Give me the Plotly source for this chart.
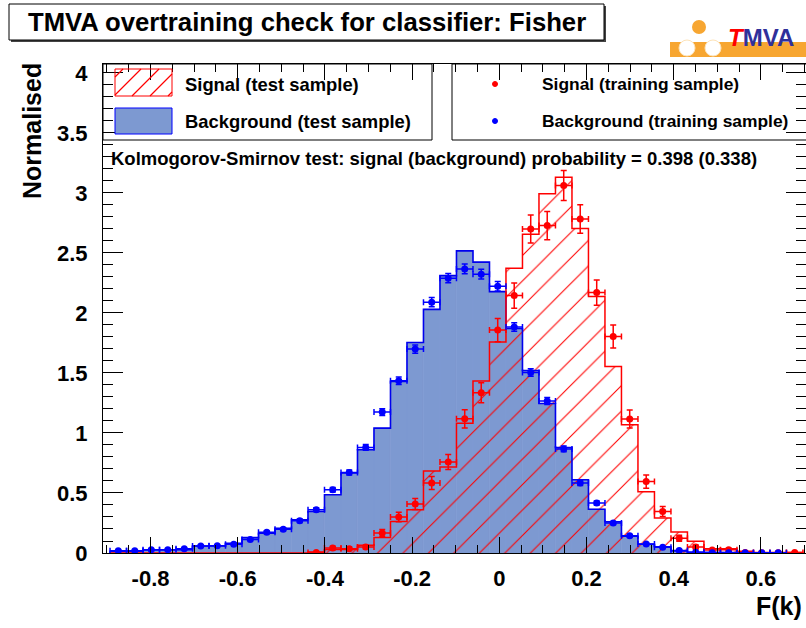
import numpy as np
import plotly.graph_objects as go

# ---------------- data ----------------
n_bins = 42
x_lo = -0.8929
bin_w = 0.03784

# test-sample histograms (normalised)
bkg_test = [0.015, 0.015, 0.025, 0.027, 0.028, 0.058, 0.058, 0.080, 0.128, 0.165,
            0.205, 0.277, 0.346, 0.485, 0.666, 0.860, 1.040, 1.430, 1.754, 2.030,
            2.311, 2.517, 2.423, 2.178, 1.870, 1.520, 1.245, 0.879, 0.610, 0.365,
            0.260, 0.140, 0.073, 0.052, 0.017, 0.008, 0.004, 0.003, 0.001, 0.001,
            0.0, 0.0]
sig_test = [0.0, 0.0, 0.0, 0.0, 0.0, 0.0, 0.0, 0.0, 0.0, 0.004,
            0.0, 0.0, 0.008, 0.030, 0.030, 0.065, 0.130, 0.263, 0.361, 0.683,
            0.717, 1.080, 1.433, 1.757, 2.373, 2.656, 2.992, 3.130, 2.703, 2.137,
            1.554, 1.068, 0.510, 0.291, 0.174, 0.097, 0.035, 0.035, 0.014, 0.005,
            0.005, 0.005]

# training-sample points
bkg_train = [0.019, 0.019, 0.027, 0.027, 0.035, 0.058, 0.061, 0.072, 0.113, 0.172,
             0.197, 0.269, 0.361, 0.527, 0.671, 0.879, 1.174, 1.435, 1.699, 2.090,
             2.290, 2.367, 2.323, 2.222, 1.883, 1.504, 1.266, 0.867, 0.583, 0.416,
             0.250, 0.144, 0.076, 0.047, 0.020, 0.007, 0.002, 0.002, 0.002, 0.002,
             0.002, None]
bkg_train_err = [0.004, 0.004, 0.004, 0.004, 0.005, 0.006, 0.006, 0.007, 0.009, 0.011,
                 0.012, 0.014, 0.016, 0.019, 0.021, 0.024, 0.028, 0.031, 0.034, 0.038,
                 0.039, 0.040, 0.040, 0.039, 0.036, 0.032, 0.029, 0.024, 0.020, 0.017,
                 0.013, 0.010, 0.007, 0.006, 0.004, 0.002, 0.001, 0.001, 0.001, 0.001,
                 0.001, 0.0]
sig_train = [None, None, None, None, None, None, None, None, None, None,
             None, None, 0.005, 0.042, 0.036, 0.050, 0.166, 0.300, 0.408, 0.583,
             0.758, 1.118, 1.335, 1.857, 2.145, 2.700, 2.728, 3.061, 2.783, 2.170,
             1.804, 1.116, 0.595, 0.346, 0.122, 0.050, 0.025, 0.027, 0.004, 0.003,
             0.002, 0.004]
sig_train_err = [0.0, 0.0, 0.0, 0.0, 0.0, 0.0, 0.0, 0.0, 0.0, 0.0,
                 0.0, 0.0, 0.005, 0.015, 0.014, 0.016, 0.029, 0.039, 0.046, 0.055,
                 0.062, 0.076, 0.083, 0.097, 0.105, 0.117, 0.118, 0.125, 0.119, 0.105,
                 0.096, 0.075, 0.055, 0.042, 0.025, 0.016, 0.011, 0.012, 0.005, 0.004,
                 0.003, 0.005]

x_tick_vals = [-0.8, -0.6, -0.4, -0.2, 0.0, 0.2, 0.4, 0.6]
x_tick_text = ["-0.8", "-0.6", "-0.4", "-0.2", "0", "0.2", "0.4", "0.6"]
y_tick_vals = [0, 0.5, 1, 1.5, 2, 2.5, 3, 3.5, 4]
y_tick_text = ["0", "0.5", "1", "1.5", "2", "2.5", "3", "3.5", "4"]

title_text = "TMVA overtraining check for classifier: Fisher"
ks_text = "Kolmogorov-Smirnov test: signal (background) probability = 0.398 (0.338)"
legend_labels = ["Signal (test sample)", "Background (test sample)",
                 "Signal (training sample)", "Background (training sample)"]
x_title = "F(k)"
y_title = "Normalised"

# ---------------- geometry ----------------
W, H = 806, 628
L, R, T, B = 103, 806, 64, 553
x_range = [-0.909, 0.7034]
y_range = [0, 4.074]

FONT = "Liberation Sans, Arial, Helvetica, sans-serif"
BLUE_FILL = "#7d99d1"
BLUE_LINE = "#0000ee"
RED = "#ff0000"

edges = x_lo + bin_w * np.arange(n_bins + 1)
centers = 0.5 * (edges[:-1] + edges[1:])


def px(xp):
    return (xp - L) / (R - L)


def py(yp):
    return (B - yp) / (B - T)


def outline(vals):
    xs, ys = [edges[0]], [0.0]
    for k, v in enumerate(vals):
        xs += [edges[k], edges[k + 1]]
        ys += [v, v]
    xs.append(edges[-1])
    ys.append(0.0)
    return xs, ys


fig = go.Figure()

# background test: filled histogram
fig.add_trace(go.Bar(x=centers, y=bkg_test, width=bin_w,
                     marker=dict(color=BLUE_FILL, line=dict(width=0.6, color=BLUE_FILL)),
                     showlegend=False, hoverinfo="skip"))
bx, by = outline(bkg_test)
fig.add_trace(go.Scatter(x=bx, y=by, mode="lines", line=dict(color=BLUE_LINE, width=1.6),
                         showlegend=False, hoverinfo="skip"))

# signal test: hatched histogram
fig.add_trace(go.Bar(x=centers, y=sig_test, width=bin_w,
                     marker=dict(color="rgba(0,0,0,0)", line=dict(width=0),
                                 pattern=dict(shape="/", fgcolor=RED, bgcolor="rgba(0,0,0,0)",
                                              fgopacity=1, size=18, solidity=0.06, fillmode="overlay")),
                     showlegend=False, hoverinfo="skip"))
sx, sy = outline(sig_test)
fig.add_trace(go.Scatter(x=sx, y=sy, mode="lines", line=dict(color=RED, width=1.5),
                         showlegend=False, hoverinfo="skip"))

# training points
fig.add_trace(go.Scatter(x=centers, y=sig_train, mode="markers",
                         marker=dict(color=RED, size=7),
                         error_y=dict(type="data", array=sig_train_err, color=RED, thickness=1.5, width=3),
                         error_x=dict(type="constant", value=bin_w / 2, color=RED, thickness=1.5, width=3),
                         showlegend=False, hoverinfo="skip"))
fig.add_trace(go.Scatter(x=centers, y=bkg_train, mode="markers",
                         marker=dict(color="#0000ff", size=7),
                         error_y=dict(type="data", array=bkg_train_err, color="#0000ff", thickness=1.5, width=3),
                         error_x=dict(type="constant", value=bin_w / 2, color="#0000ff", thickness=1.5, width=3),
                         showlegend=False, hoverinfo="skip"))

shapes = []
annotations = []

# legend boxes
shapes.append(dict(type="rect", xref="paper", yref="paper", x0=px(103), x1=px(432), y0=py(140), y1=py(64),
                   line=dict(color="black", width=1), fillcolor="white", layer="below"))
shapes.append(dict(type="rect", xref="paper", yref="paper", x0=px(452), x1=px(812), y0=py(140), y1=py(64),
                   line=dict(color="black", width=1), fillcolor="white", layer="below"))

# hatched sample box (one path of diagonal segments)
hx0, hx1, hy0, hy1 = 115, 172, 69, 96
segs = []
for c in range(hx0 + hy0 + 8, hx1 + hy1, 18):
    pts = []
    for xx in (hx0, hx1):
        yy = c - xx
        if hy0 <= yy <= hy1:
            pts.append((xx, yy))
    for yy in (hy0, hy1):
        xx = c - yy
        if hx0 <= xx <= hx1:
            pts.append((xx, yy))
    if len(pts) >= 2:
        (xa, ya), (xb, yb) = pts[0], pts[-1]
        segs.append("M%.5f,%.5f L%.5f,%.5f" % (px(xa), py(ya), px(xb), py(yb)))
shapes.append(dict(type="path", xref="paper", yref="paper", path=" ".join(segs),
                   line=dict(color="#ff0000", width=1.2)))
shapes.append(dict(type="rect", xref="paper", yref="paper", x0=px(hx0), x1=px(hx1), y0=py(hy1), y1=py(hy0),
                   line=dict(color="#ff0000", width=1), fillcolor="rgba(0,0,0,0)"))
# filled sample box
shapes.append(dict(type="rect", xref="paper", yref="paper", x0=px(115), x1=px(172), y0=py(134), y1=py(108),
                   line=dict(color="#0000ff", width=1), fillcolor=BLUE_FILL))
# marker samples
for yc, col in ((84, RED), (121, "#0000ff")):
    shapes.append(dict(type="circle", xref="paper", yref="paper", x0=px(492.5), x1=px(497.5),
                       y0=py(yc + 2.5), y1=py(yc - 2.5), line=dict(color=col, width=1), fillcolor=col))

for txt, xx, yy, fs in ((legend_labels[0], 183, 84, 18.4), (legend_labels[1], 183, 121, 18.4),
                        (legend_labels[2], 540, 84, 17.4), (legend_labels[3], 540, 121, 17.4)):
    annotations.append(dict(text="<b>%s</b>" % txt, x=px(xx), y=py(yy), xref="paper", yref="paper",
                            xanchor="left", yanchor="middle", showarrow=False,
                            font=dict(family=FONT, size=fs, color="black")))

# KS text
annotations.append(dict(text="<b>%s</b>" % ks_text, x=px(109), y=py(158), xref="paper", yref="paper",
                        xanchor="left", yanchor="middle", showarrow=False,
                        font=dict(family=FONT, size=18.5, color="black")))

# title box
shapes.append(dict(type="rect", xref="paper", yref="paper", x0=px(11), x1=px(606), y0=py(42), y1=py(6),
                   line=dict(color="black", width=0), fillcolor="#444444"))
shapes.append(dict(type="rect", xref="paper", yref="paper", x0=px(9), x1=px(604), y0=py(40), y1=py(4),
                   line=dict(color="black", width=1), fillcolor="white"))
annotations.append(dict(text="<b>%s</b>" % title_text, x=px(307), y=py(22), xref="paper", yref="paper",
                        xanchor="center", yanchor="middle", showarrow=False,
                        font=dict(family=FONT, size=25.7, color="black")))

# axis titles
annotations.append(dict(text="<b>%s</b>" % y_title, x=px(32), y=py(61), xref="paper", yref="paper",
                        xanchor="center", yanchor="top", textangle=-90, showarrow=False,
                        font=dict(family=FONT, size=25, color="black")))
annotations.append(dict(text="<b>%s</b>" % x_title, x=px(804), y=py(606), xref="paper", yref="paper",
                        xanchor="right", yanchor="middle", showarrow=False,
                        font=dict(family=FONT, size=25, color="black")))

# TMVA logo
ORANGE = "#f7a631"
shapes.append(dict(type="rect", xref="paper", yref="paper", x0=px(670), x1=px(812), y0=py(57), y1=py(42),
                   line=dict(width=0), fillcolor=ORANGE))
shapes.append(dict(type="circle", xref="paper", yref="paper", x0=px(692), x1=px(706), y0=py(34), y1=py(20),
                   line=dict(width=0), fillcolor=ORANGE))
for cx in (687, 713):
    shapes.append(dict(type="circle", xref="paper", yref="paper", x0=px(cx - 8), x1=px(cx + 8),
                       y0=py(56), y1=py(40), line=dict(color="#fde3b8", width=1), fillcolor="white"))
annotations.append(dict(text="<b><i><span style='color:#ff0000'>T</span></i>"
                             "<span style='color:#30309a'>MVA</span></b>",
                        x=px(761), y=py(37), xref="paper", yref="paper", xanchor="center", yanchor="middle",
                        showarrow=False, font=dict(family=FONT, size=24)))

tickfont = dict(family=FONT, size=22, color="black", weight="bold")

fig.update_layout(
    width=W, height=H,
    margin=dict(l=L, r=W - R, t=T, b=H - B, pad=0),
    paper_bgcolor="white", plot_bgcolor="white",
    barmode="overlay", bargap=0,
    showlegend=False,
    shapes=shapes, annotations=annotations,
    xaxis=dict(range=x_range, showgrid=False, zeroline=False, showline=True, linecolor="black", linewidth=1,
               mirror="ticks", ticks="inside", ticklen=16, tickwidth=1, tickcolor="black",
               tickmode="array", tickvals=x_tick_vals, ticktext=x_tick_text, tickfont=tickfont,
               ticklabelstandoff=6,
               minor=dict(ticks="inside", ticklen=8, tickwidth=1, tickcolor="black", dtick=0.05, tick0=0,
                          showgrid=False)),
    yaxis=dict(range=y_range, showgrid=False, zeroline=False, showline=True, linecolor="black", linewidth=1,
               mirror="ticks", ticks="inside", ticklen=20, tickwidth=1, tickcolor="black",
               tickmode="array", tickvals=y_tick_vals, ticktext=y_tick_text, tickfont=tickfont,
               ticklabelstandoff=10,
               minor=dict(ticks="inside", ticklen=10, tickwidth=1, tickcolor="black", dtick=0.1, tick0=0,
                          showgrid=False)),
)

fig.write_html("out.html", config={"displayModeBar": False, "staticPlot": True},
               post_script="document.body.style.margin='0';document.body.style.padding='0';"
                           "document.body.style.overflow='hidden';")
